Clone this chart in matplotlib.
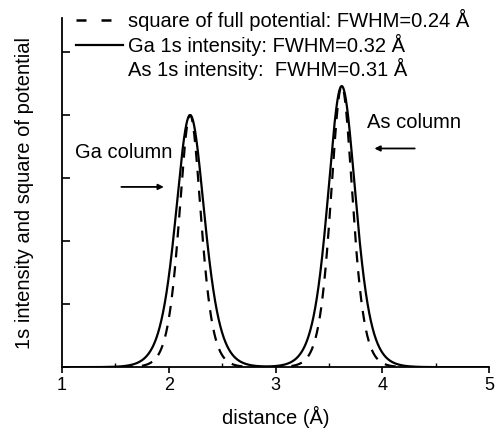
import numpy as np
import matplotlib
matplotlib.use("Agg")
from matplotlib import pyplot as plt
from matplotlib.lines import Line2D

plt.rcParams['font.family'] = ['Liberation Sans', 'DejaVu Sans']

# peak parameters for the two atomic columns
columns = ["Ga", "As"]
centers = [2.20, 3.62]          # Å
heights = [4.0, 4.46]           # arb. units
fwhm_potential = [0.24, 0.24]   # Å, square of full potential
fwhm_intensity = [0.32, 0.31]   # Å, 1s intensity


def peak(x, x0, h, fwhm):
    # sech^2 profile with the given full width at half maximum
    w = fwhm / (2 * np.arccosh(np.sqrt(2)))
    return h / np.cosh((x - x0) / w) ** 2


x = np.linspace(1.0, 5.0, 2000)
pot = sum(peak(x, c, h, f) for c, h, f in zip(centers, heights, fwhm_potential))
inten = sum(peak(x, c, h, f) for c, h, f in zip(centers, heights, fwhm_intensity))

fig = plt.figure(figsize=(4.96, 4.34), dpi=100)
ax = fig.add_axes([0.125, 0.154, 0.861, 0.8045])

ax.plot(x, inten, color='black', lw=1.6)
ax.plot(x, pot, color='black', lw=1.6, dashes=(5, 4))

ax.set_xlim(1, 5)
ax.set_ylim(0, 5.54)
ax.set_xticks([1, 2, 3, 4, 5])
ax.set_xticks(np.arange(1.5, 5, 1.0), minor=True)
ax.set_yticks([0, 1, 2, 3, 4, 5])
ax.set_yticklabels([])
ax.tick_params(axis='x', which='major', direction='out', length=4, width=1.2, labelsize=13, pad=3)
ax.tick_params(axis='x', which='minor', direction='in', length=3, width=1.0)
ax.tick_params(axis='y', which='major', direction='in', length=6, width=1.2)
for side in ('top', 'right'):
    ax.spines[side].set_visible(False)
for side in ('left', 'bottom'):
    ax.spines[side].set_linewidth(1.3)

ax.set_xlabel("distance (Å)", fontsize=14.5, labelpad=9)
ax.set_ylabel("1s intensity and square of potential", fontsize=14.5, labelpad=17)

handles = [
    Line2D([], [], color='black', lw=1.8, dashes=(4, 6)),
    Line2D([], [], color='black', lw=1.6),
    Line2D([], [], color='none'),
]
labels = [
    "square of full potential: FWHM=0.24 Å",
    "Ga 1s intensity: FWHM=0.32 Å",
    "As 1s intensity:  FWHM=0.31 Å",
]
ax.legend(handles, labels, loc='upper left', bbox_to_anchor=(0.01, 1.055),
          frameon=False, fontsize=14.5, handlelength=2.3, handletextpad=0.25,
          borderpad=0, labelspacing=0.13)

ax.text(1.12, 3.40, "Ga column", fontsize=14.5, ha='left', va='center')
ax.annotate("", xy=(1.98, 2.86), xytext=(1.53, 2.86),
            arrowprops=dict(arrowstyle='-|>', color='black', lw=1.3,
                            mutation_scale=8))
ax.text(3.86, 3.88, "As column", fontsize=14.5, ha='left', va='center')
ax.annotate("", xy=(3.9, 3.47), xytext=(4.33, 3.47),
            arrowprops=dict(arrowstyle='-|>', color='black', lw=1.3,
                            mutation_scale=8))

fig.savefig("out.png", dpi=100)
